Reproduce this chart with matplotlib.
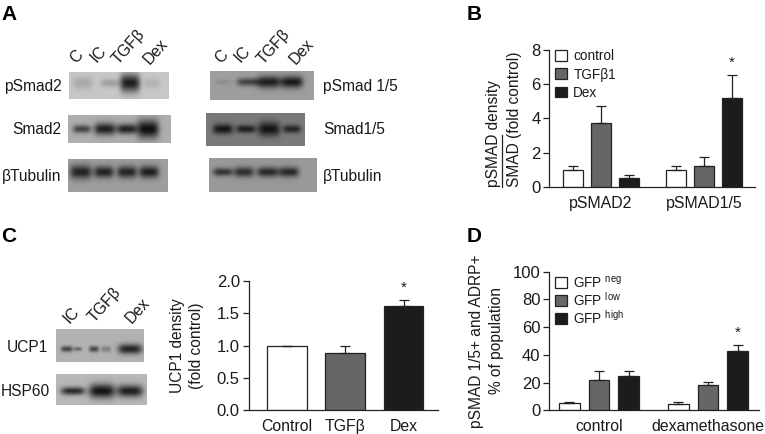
import numpy as np
import matplotlib
matplotlib.use("Agg")
import matplotlib.pyplot as plt
from matplotlib.patches import Patch

plt.rcParams['font.family'] = ['Liberation Sans', 'DejaVu Sans']
plt.rcParams['mathtext.fontset'] = 'custom'
plt.rcParams['mathtext.rm'] = 'Liberation Sans'
plt.rcParams['mathtext.default'] = 'rm'

W, H = 765, 434
TXT = '#1a1a1a'
COLS = ['white', '#666666', '#1c1c1c']

# panel B
b_groups = ['pSMAD2', 'pSMAD1/5']
b_series = ['control', 'TGFβ1', 'Dex']
b_vals = [[1.0, 1.0], [3.75, 1.2], [0.55, 5.2]]
b_errs = [[0.25, 0.2], [1.0, 0.55], [0.15, 1.35]]

# panel C
c_cats = ['Control', 'TGFβ', 'Dex']
c_vals = [1.0, 0.89, 1.62]
c_errs = [0.0, 0.11, 0.08]

# panel D
d_groups = ['control', 'dexamethasone']
d_series = ['GFP $^{neg}$', 'GFP $^{low}$', 'GFP $^{high}$']
d_vals = [[5, 4.5], [22, 18], [25, 42.5]]
d_errs = [[1.2, 1.5], [6.5, 2.7], [3, 4.5]]

# blots: box (x0, x1, y0, y1), background grey, band row y, lane x,
# band strength, half width, half height
blots = [
    ((69, 169, 72, 99), 0.78, 83, [83, 110, 130, 152], [0.12, 0.16, 0.66, 0.08], [10, 9, 10, 8], [6, 4, 9, 5]),
    ((68, 171, 115, 143), 0.68, 129, [82, 105, 127, 148], [0.42, 0.55, 0.55, 0.62], [9, 11, 10, 11], [4, 6, 5, 9]),
    ((68, 168, 159, 192), 0.62, 172, [81, 104, 127, 149], [0.48, 0.48, 0.48, 0.5], [11, 10, 10, 10], [7, 6, 6, 6]),
    ((210, 314, 71, 100), 0.62, 82, [223, 248, 269, 292], [0.06, 0.36, 0.5, 0.52], [8, 11, 12, 11], [3, 4, 6, 6]),
    ((206, 305, 113, 146), 0.48, 129, [223, 246, 269, 292], [0.4, 0.36, 0.4, 0.34], [10, 10, 11, 9], [5, 4, 7, 4]),
    ((209, 317, 158, 192), 0.6, 172, [223, 244, 268, 289], [0.4, 0.42, 0.44, 0.44], [10, 10, 11, 10], [4, 5, 5, 5]),
    ((56, 144, 329, 362), 0.7, 349, [67, 78, 94, 106, 130], [0.42, 0.3, 0.42, 0.2, 0.56], [6, 4, 5, 5, 12], [3, 2, 3, 3, 5]),
    ((56, 147, 374, 405), 0.72, 391, [73, 102, 130], [0.55, 0.64, 0.6], [12, 13, 13], [4, 7, 6]),
]

# lane and row labels
lanes_a = [('C', 76.5, 57), ('IC', 98, 54), ('TGFβ', 129, 47), ('Dex', 156, 52),
           ('C', 221.5, 57), ('IC', 242, 54), ('TGFβ', 274, 47), ('Dex', 302, 52)]
lanes_c = [('IC', 71, 315), ('TGFβ', 105, 305), ('Dex', 137.5, 311)]
row_right = [('pSmad2', 61.5, 86), ('Smad2', 61.5, 130), ('βTubulin', 61.5, 176),
             ('UCP1', 48.5, 347), ('HSP60', 49.5, 391)]
row_left = [('pSmad 1/5', 323, 86), ('Smad1/5', 323, 130), ('βTubulin', 323, 176)]
panels = [('A', 1, 14), ('B', 467, 14), ('C', 1, 237), ('D', 467, 236)]


def px_axes(fig, x0, x1, ytop, ybot):
    return fig.add_axes([x0 / W, 1 - ybot / H, (x1 - x0) / W, (ybot - ytop) / H])


def style(ax, ylim, yticks, fmt=None):
    ax.set_ylim(*ylim)
    ax.set_yticks(yticks)
    if fmt:
        ax.set_yticklabels([fmt % v for v in yticks])
    for s in ['top', 'right']:
        ax.spines[s].set_visible(False)
    for s in ['left', 'bottom']:
        ax.spines[s].set_linewidth(0.9)
        ax.spines[s].set_color('#222222')
    ax.tick_params(axis='y', length=4.4, width=0.9, labelsize=12, pad=2, labelcolor=TXT, color='#222222')
    ax.tick_params(axis='x', length=0, labelsize=11.4, pad=6.5, labelcolor=TXT)
    ax.patch.set_alpha(0)


def grouped(ax, groups, vals, errs, offset, cap):
    # three bars in each group, one x unit apart
    centers = np.array([0, offset])
    for i in range(3):
        ax.bar(centers + i - 1, vals[i], width=0.7, color=COLS[i], edgecolor='#222222', linewidth=0.9,
               yerr=[np.zeros(2), errs[i]], error_kw=dict(ecolor='#222222', elinewidth=0.9, capsize=cap, capthick=0.9))
    ax.set_xticks(centers)
    ax.set_xticklabels(groups)


def legend(ax, labels, x, y, spacing):
    hs = [Patch(facecolor=COLS[i], edgecolor='#222222', linewidth=0.9) for i in range(3)]
    ax.legend(hs, labels, loc='upper left', bbox_to_anchor=(x, y), frameon=False, fontsize=9.8,
              handlelength=0.85, handleheight=0.85, handletextpad=0.5, labelspacing=spacing,
              borderpad=0, borderaxespad=0, labelcolor=TXT)


def star(ax, x, top, pts):
    ax.annotate('*', xy=(x, top), xytext=(0, pts), textcoords='offset points', ha='center', va='center',
                fontsize=11, color=TXT)


def draw_blot(ov, box, bg, y, xs, amps, wx, wy):
    x0, x1, y0, y1 = box
    gx, gy = np.meshgrid(np.arange(x0, x1, 0.5) + 0.25, np.arange(y0, y1, 0.5) + 0.25)
    img = np.full(gx.shape, float(bg))
    for cx, a, rx, ry in zip(xs, amps, wx, wy):
        img -= a * np.exp(-(((gx - cx) / rx) ** 4 + ((gy - y) / ry) ** 2))
    ov.imshow(np.clip(img, 0.05, 1), cmap='gray', vmin=0, vmax=1, extent=(x0, x1, y1, y0),
              aspect='auto', interpolation='bilinear', zorder=1)


fig = plt.figure(figsize=(W / 100, H / 100), dpi=100)

# overlay in image pixels for blots and their labels
ov = fig.add_axes([0, 0, 1, 1])
for b in blots:
    draw_blot(ov, *b)
ov.set_xlim(0, W)
ov.set_ylim(H, 0)
ov.axis('off')

for t, x, y in panels:
    ov.text(x, y, t, fontsize=15, fontweight='bold', color='black', va='center', ha='left')
for t, x, y in lanes_a + lanes_c:
    ov.text(x, y, t, fontsize=11.4, rotation=48, ha='center', va='center', color=TXT, rotation_mode='anchor')
for t, x, y in row_right:
    ov.text(x, y, t, fontsize=11.2, ha='right', va='center', color=TXT)
for t, x, y in row_left:
    ov.text(x, y, t, fontsize=11.2, ha='left', va='center', color=TXT)

# axis titles
ov.text(494, 187, 'pSMAD density', rotation=90, fontsize=11.2, ha='center', va='bottom', color=TXT)
ov.text(515, 187, 'SMAD (fold control)', rotation=90, fontsize=11.2, ha='center', va='bottom', color=TXT)
ov.plot([502.5, 502.5], [135, 187], color='#222222', lw=0.9)
ov.text(177.5, 346, 'UCP1 density', rotation=90, fontsize=11.2, ha='center', va='center', color=TXT)
ov.text(197, 346, '(fold control)', rotation=90, fontsize=11.2, ha='center', va='center', color=TXT)
ov.text(476.5, 341, 'pSMAD 1/5+ and ADRP+', rotation=90, fontsize=11.2, ha='center', va='center', color=TXT)
ov.text(496.5, 341, '% of population', rotation=90, fontsize=11.2, ha='center', va='center', color=TXT)

# B
ax = px_axes(fig, 549.3, 755, 50, 187)
grouped(ax, b_groups, b_vals, b_errs, 3.67, 3.4)
ax.set_xlim((549.3 - 601) / 28, (755 - 601) / 28)
style(ax, (0, 8), [0, 2, 4, 6, 8])
legend(ax, b_series, (555 - 549.3) / 205.7, 1.005, 0.31)
star(ax, 3.67 + 1, b_vals[2][1] + b_errs[2][1], 9)

# C
ax = px_axes(fig, 248.7, 438, 281, 410.3)
ax.bar(range(3), c_vals, width=0.68, color=COLS, edgecolor='#222222', linewidth=0.9,
       yerr=[np.zeros(3), c_errs], error_kw=dict(ecolor='#222222', elinewidth=0.9, capsize=3.4, capthick=0.9))
ax.set_xticks(range(3))
ax.set_xticklabels(c_cats)
ax.set_xlim((248.7 - 287) / 58.3, (438 - 287) / 58.3)
style(ax, (0, 2), [0, 0.5, 1, 1.5, 2], '%.1f')
star(ax, 2, c_vals[2] + c_errs[2], 9)

# D
ax = px_axes(fig, 549.3, 759, 271.7, 410.3)
grouped(ax, d_groups, d_vals, d_errs, 3.67, 3.4)
ax.set_xlim((549.3 - 599) / 29.7, (759 - 599) / 29.7)
style(ax, (0, 100), [0, 20, 40, 60, 80, 100])
legend(ax, d_series, (555 - 549.3) / 209.7, 0.98, 0.0)
star(ax, 3.67 + 1, d_vals[2][1] + d_errs[2][1], 9)

fig.savefig('out.png', dpi=100)
